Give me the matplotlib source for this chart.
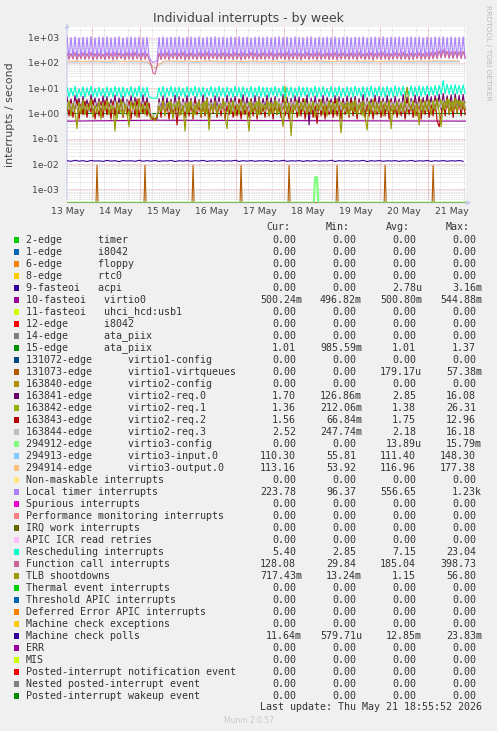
import numpy as np
import matplotlib
matplotlib.use('Agg')
import matplotlib.pyplot as plt
from matplotlib.patches import Rectangle, FancyArrowPatch
from matplotlib.ticker import LogLocator, FuncFormatter, NullFormatter

W, H = 497, 731


def fx(x):
    return x / W


def fy(y):
    return 1 - y / H


# time axis: hours since 13 May 00:00, graph runs 13 May 11:30 -> 21 May 18:55
t_start, t_end = 11.5, 210.92
hours = np.arange(200) + 11.5          # hourly samples
hours2 = hours[::2]
hours4 = hours[::4]

day_labels = ["13 May", "14 May", "15 May", "16 May", "17 May",
              "18 May", "19 May", "20 May", "21 May"]

# ---------------- series ----------------
local_timer = [
    1080, 150, 1020, 160, 1100, 140, 990, 155, 1060, 150, 1040, 165, 1110, 145, 1000, 150, 1070, 160, 1030, 140,
    1090, 155, 1010, 150, 1060, 145, 1100, 160, 990, 150, 1050, 155, 1080, 140, 1020, 165, 1070, 150, 1000, 155,
    1040, 180, 120, 108, 110, 125, 1030, 150, 1090, 160, 1010, 145, 1070, 155, 1040, 150, 1100, 160, 990, 150,
    1060, 145, 1080, 155, 1020, 160, 1090, 150, 1000, 155, 1070, 140, 1050, 160, 1110, 150, 1030, 155, 1060, 145,
    1000, 150, 1080, 160, 1040, 155, 1100, 145, 1020, 150, 1070, 160, 990, 155, 1060, 150, 1090, 145, 1030, 160,
    1080, 150, 1010, 155, 1060, 140, 1100, 160, 1040, 150, 1070, 155, 1000, 145, 1090, 160, 1050, 150, 1020, 155,
    1070, 145, 1100, 160, 990, 150, 1060, 155, 1040, 150, 1080, 140, 1030, 165, 1090, 150, 1010, 155, 1060, 150,
    1100, 145, 1020, 160, 1070, 150, 1040, 155, 1090, 150, 1000, 160, 1060, 145, 1080, 155, 1030, 150, 1100, 160,
    1010, 150, 1070, 155, 1050, 145, 1090, 160, 1020, 150, 1060, 155, 1100, 140, 1040, 165, 1080, 150, 1000, 155,
    1070, 150, 1030, 160, 1090, 145, 1050, 155, 1100, 160, 1020, 150, 1080, 155, 1040, 145, 1060, 160, 1090, 150,
]

function_call = [
    250, 135, 240, 140, 260, 130, 235, 145, 255, 135, 245, 140, 265, 130, 240, 138, 250, 142, 230, 135,
    255, 140, 245, 132, 260, 138, 250, 145, 235, 130, 258, 140, 248, 135, 262, 142, 240, 130, 252, 138,
    245, 130, 90, 40, 36, 75, 250, 135, 245, 140, 260, 132, 238, 145, 255, 135, 248, 140, 262, 130,
    240, 138, 252, 142, 235, 135, 258, 140, 246, 132, 262, 138, 244, 145, 250, 135, 240, 140, 256, 132,
    248, 140, 236, 135, 260, 142, 244, 130, 255, 138, 240, 145, 262, 135, 250, 132, 238, 140, 258, 136,
    245, 142, 260, 130, 238, 138, 252, 145, 246, 135, 264, 132, 240, 140, 255, 138, 248, 130, 236, 144,
    258, 135, 242, 140, 250, 132, 262, 138, 236, 145, 254, 135, 246, 140, 260, 130, 244, 138, 252, 142,
    238, 136, 256, 140, 248, 132, 262, 145, 240, 135, 250, 138, 258, 130, 244, 142, 252, 136, 264, 140,
    246, 132, 240, 138, 258, 145, 250, 135, 262, 140, 238, 132, 254, 138, 246, 145, 260, 135, 242, 140,
    256, 138, 262, 142, 270, 150, 300, 160, 330, 165, 290, 155, 280, 150, 285, 158, 275, 148, 290, 155,
]

rescheduling = [
    11.0, 4.5, 10.0, 5.0, 12.0, 4.2, 9.5, 4.8, 11.5, 4.4, 10.5, 5.2, 12.0, 4.6, 10.0, 4.5, 11.0, 5.0, 9.8, 4.4,
    11.5, 4.7, 10.2, 4.5, 12.0, 4.9, 10.8, 4.3, 11.2, 4.6, 9.9, 5.1, 11.8, 4.5, 10.4, 4.8, 12.1, 4.4, 10.6, 4.7,
    11.0, 4.6, 4.2, 4.0, 4.0, 4.1, 10.5, 4.8, 11.8, 4.5, 10.2, 5.0, 12.0, 4.6, 10.9, 4.4, 11.4, 4.9, 10.1, 4.5,
    11.6, 4.7, 10.3, 5.1, 12.2, 4.4, 10.7, 4.8, 11.1, 4.5, 9.9, 5.0, 11.9, 4.6, 10.6, 4.4, 12.0, 4.8, 10.4, 4.6,
    11.3, 4.9, 10.0, 4.5, 12.1, 4.7, 10.8, 4.3, 11.5, 5.0, 10.2, 4.6, 11.9, 4.4, 10.5, 4.8, 12.2, 4.5, 10.9, 4.7,
    11.0, 4.4, 10.6, 5.1, 11.8, 4.6, 10.1, 4.8, 12.0, 4.5, 10.7, 4.9, 11.4, 4.3, 10.3, 4.7, 12.1, 4.6, 10.8, 5.0,
    11.2, 4.5, 10.4, 4.8, 12.3, 4.4, 10.9, 4.7, 11.6, 5.1, 10.0, 4.6, 11.8, 4.5, 10.6, 4.9, 12.0, 4.4, 10.2, 4.8,
    11.5, 4.7, 10.8, 4.5, 12.2, 5.0, 10.3, 4.6, 11.7, 4.4, 10.9, 4.8, 12.4, 4.6, 10.5, 5.1, 11.9, 4.7, 11.0, 4.5,
    12.0, 4.9, 10.7, 4.6, 12.5, 4.8, 11.1, 5.0, 12.2, 4.7, 10.8, 5.2, 12.6, 4.9, 11.3, 5.0, 12.4, 4.8, 11.6, 5.3,
    12.5, 5.1, 11.4, 5.4, 12.8, 5.2, 13.0, 5.8, 20.0, 6.2, 14.0, 5.9, 13.2, 5.6, 13.8, 6.0, 12.9, 5.7, 13.5, 6.1,
]

req0 = [
    4.5, 1.3, 3.8, 1.2, 5.2, 1.5, 4.0, 1.1, 4.8, 1.4, 3.5, 1.2, 5.5, 1.3, 4.2, 1.5, 3.9, 1.2, 5.0, 1.4,
    4.6, 1.2, 3.7, 1.5, 5.3, 1.1, 4.1, 1.4, 4.9, 1.3, 3.6, 1.2, 5.1, 1.5, 4.4, 1.1, 3.8, 1.4, 5.4, 1.2,
    4.3, 1.1, 0.7, 0.6, 0.55, 0.6, 3.9, 1.3, 5.0, 1.2, 4.2, 1.5, 3.7, 1.1, 5.3, 1.4, 4.6, 1.2, 3.9, 1.5,
    5.1, 1.3, 4.0, 1.2, 4.7, 1.5, 3.6, 1.1, 5.4, 1.3, 4.3, 1.4, 3.8, 1.2, 5.0, 1.5, 4.5, 1.1, 3.9, 1.3,
    5.2, 1.4, 4.1, 1.2, 4.8, 1.1, 3.7, 1.5, 5.5, 1.3, 4.4, 1.2, 3.9, 1.4, 5.1, 1.1, 4.6, 1.3, 4.0, 1.5,
    5.3, 1.2, 4.2, 1.4, 4.7, 1.3, 3.8, 1.1, 5.6, 1.5, 4.3, 1.2, 4.0, 1.4, 5.0, 1.3, 4.5, 1.1, 3.9, 1.4,
    5.4, 0.35, 4.1, 1.1, 4.9, 1.3, 3.7, 1.2, 5.2, 1.4, 4.4, 1.5, 3.8, 1.1, 5.1, 1.3, 4.6, 1.2, 4.0, 1.4,
    5.0, 1.3, 4.3, 1.5, 4.8, 1.2, 3.9, 1.4, 5.5, 1.1, 4.2, 1.3, 3.8, 1.5, 5.3, 1.2, 4.7, 1.4, 4.1, 1.1,
    5.2, 1.4, 4.0, 1.3, 4.9, 1.5, 3.8, 1.2, 5.6, 1.4, 4.5, 1.1, 4.0, 1.3, 5.4, 1.5, 4.8, 1.2, 4.3, 1.4,
    5.6, 1.5, 4.6, 1.3, 5.1, 1.6, 5.8, 1.4, 6.2, 1.7, 5.0, 1.5, 5.5, 1.4, 6.0, 1.6, 5.2, 1.5, 5.7, 1.4,
]

req1 = [
    1.2, 2.5, 0.9, 2.0, 1.5, 2.8, 0.7, 2.2, 1.3, 3.0, 1.0, 1.8, 2.6, 0.8, 2.3, 1.4, 2.9, 1.1, 1.9, 2.4,
    0.9, 2.7, 1.2, 2.1, 1.6, 0.6, 2.5, 1.1, 2.8, 1.4, 2.0, 0.8, 2.6, 1.3, 3.1, 1.0, 1.9, 2.3, 1.2, 2.7,
    1.5, 0.9, 0.7, 0.6, 0.6, 0.8, 2.2, 1.1, 2.6, 1.4, 1.9, 2.9, 1.0, 2.3, 1.6, 2.7, 0.8, 2.1, 1.3, 2.5,
    1.1, 2.8, 1.4, 2.0, 0.9, 2.6, 1.5, 2.2, 1.2, 3.0, 1.0, 1.8, 2.5, 1.3, 2.9, 0.8, 2.3, 1.6, 2.0, 2.7,
    1.2, 2.4, 1.0, 2.9, 1.5, 2.1, 0.9, 2.6, 1.3, 2.3, 1.7, 2.8, 1.1, 2.0, 1.4, 3.0, 0.9, 2.5, 1.2, 2.2,
    1.6, 2.7, 1.0, 2.4, 1.3, 2.9, 1.1, 2.1, 1.5, 12.0, 1.2, 2.6, 1.0, 2.3, 1.4, 2.8, 0.9, 2.5, 1.3, 2.0,
    1.7, 2.6, 1.1, 2.9, 1.2, 2.2, 1.5, 2.7, 0.9, 2.4, 1.3, 3.0, 1.0, 2.1, 1.6, 2.5, 1.2, 2.8, 1.4, 2.3,
    1.0, 2.6, 1.3, 2.9, 1.1, 2.2, 1.5, 2.7, 0.8, 2.4, 1.2, 3.1, 1.0, 2.0, 1.6, 2.6, 1.3, 2.8, 1.1, 2.3,
    1.5, 2.9, 1.2, 2.4, 1.0, 2.7, 1.4, 2.2, 1.7, 3.0, 1.1, 2.5, 1.3, 2.8, 0.9, 2.3, 1.6, 2.6, 1.2, 3.2,
    1.4, 2.8, 1.6, 3.3, 1.2, 2.7, 1.8, 3.5, 1.3, 2.9, 1.7, 3.6, 1.2, 3.0, 1.5, 3.4, 1.9, 3.1, 1.4, 2.8,
]

req2 = [
    2.5, 0.8, 3.2, 0.7, 1.8, 3.6, 0.6, 2.2, 0.9, 3.0, 0.7, 2.6, 1.1, 3.4, 0.6, 2.0, 0.8, 2.9, 0.7, 3.3,
    0.9, 2.4, 0.6, 3.1, 0.8, 2.7, 1.0, 3.5, 0.7, 2.1, 0.9, 3.2, 0.6, 2.5, 0.8, 3.7, 0.7, 2.3, 1.0, 2.9,
    0.8, 2.6, 0.7, 0.6, 0.6, 0.7, 2.8, 0.7, 3.4, 0.9, 2.2, 0.6, 3.0, 0.8, 2.7, 0.35, 3.3, 0.9, 2.4, 0.7,
    3.1, 0.8, 2.6, 0.6, 3.5, 0.9, 2.2, 0.7, 2.9, 0.8, 3.6, 0.6, 2.4, 1.0, 3.0, 0.7, 2.7, 0.8, 3.3, 0.6,
    2.5, 0.9, 3.2, 0.7, 2.1, 0.8, 3.7, 0.6, 2.8, 0.9, 2.3, 0.7, 3.4, 0.8, 2.6, 0.6, 3.0, 0.9, 2.2, 0.7,
    3.5, 0.8, 2.7, 0.6, 3.1, 0.9, 2.4, 0.7, 3.6, 0.8, 2.0, 0.6, 2.9, 1.0, 3.3, 0.7, 2.5, 0.8, 3.8, 0.6,
    2.6, 0.9, 3.0, 0.7, 2.3, 0.4, 3.4, 0.8, 2.7, 0.6, 3.2, 0.9, 2.1, 0.7, 3.5, 0.8, 2.8, 0.6, 3.1, 0.9,
    2.4, 0.7, 3.6, 0.8, 2.9, 0.6, 3.3, 0.9, 2.2, 0.7, 3.0, 0.8, 2.6, 0.6, 3.7, 0.9, 2.5, 0.7, 3.2, 0.8,
    2.8, 0.6, 3.4, 0.9, 2.3, 0.7, 3.1, 0.8, 2.7, 0.6, 3.5, 0.9, 2.4, 0.7, 3.0, 0.8, 3.6, 0.6, 2.9, 0.9,
    3.3, 0.7, 2.6, 0.8, 3.8, 0.5, 0.3, 0.9, 3.4, 0.8, 4.0, 0.9, 3.1, 0.7, 3.6, 1.0, 2.9, 0.8, 3.5, 0.9,
]

req3 = [
    2.8, 1.4, 2.5, 1.2, 3.0, 1.5, 2.6, 1.3, 2.9, 1.4, 2.4, 1.2, 3.1, 1.5, 2.7, 1.3, 2.8, 1.6, 2.5, 1.2,
    2.9, 1.3, 2.6, 1.5, 3.0, 1.2, 2.7, 1.4, 2.5, 1.3, 3.1, 1.5, 2.8, 1.2, 2.6, 1.4, 3.0, 1.3, 2.7, 1.5,
    2.6, 1.4, 1.0, 0.9, 0.9, 1.0, 2.8, 1.3, 2.9, 1.5, 2.5, 1.2, 3.0, 1.4, 2.7, 1.3, 2.6, 1.5, 2.9, 1.2,
    2.8, 1.3, 3.0, 1.5, 2.5, 1.2, 2.9, 1.4, 2.6, 1.3, 3.1, 1.5, 2.7, 1.2, 2.8, 1.4, 3.0, 1.3, 2.5, 1.5,
    2.7, 1.4, 2.9, 1.2, 3.1, 1.5, 2.6, 1.3, 2.8, 1.4, 2.5, 1.2, 3.0, 1.5, 2.7, 1.3, 2.9, 1.4, 2.6, 1.2,
    3.0, 1.5, 2.6, 1.3, 2.8, 1.4, 3.1, 1.2, 2.7, 1.5, 2.5, 1.3, 2.9, 1.4, 3.0, 1.2, 2.6, 1.5, 2.8, 1.3,
    2.5, 1.2, 3.0, 1.4, 2.7, 1.5, 2.9, 1.3, 2.6, 1.4, 3.1, 1.2, 2.8, 1.5, 2.5, 1.3, 3.0, 1.4, 2.7, 1.2,
    2.9, 1.4, 2.6, 1.5, 3.0, 1.3, 2.8, 1.2, 2.5, 1.4, 3.1, 1.5, 2.7, 1.3, 2.9, 1.2, 2.6, 1.4, 3.0, 1.5,
    2.7, 1.3, 2.9, 1.4, 2.6, 1.5, 3.0, 1.2, 2.8, 1.3, 2.5, 1.4, 3.1, 1.5, 2.7, 1.2, 2.9, 1.4, 2.8, 1.3,
    3.0, 1.5, 2.8, 1.6, 3.2, 1.4, 2.9, 1.7, 3.3, 1.5, 3.0, 1.6, 2.8, 1.4, 3.1, 1.7, 2.9, 1.5, 3.2, 1.6,
]

tlb = [
    1.5, 3.2, 0.8, 2.5, 1.2, 0.25, 2.8, 1.0, 3.5, 0.9, 2.2, 1.4, 3.8, 0.7, 2.0, 1.1, 3.0, 0.6, 2.6, 1.3,
    3.4, 0.9, 2.1, 1.6, 0.2, 2.9, 1.2, 3.6, 0.8, 2.4, 1.0, 0.3, 3.1, 1.5, 2.7, 0.7, 3.9, 1.1, 2.3, 0.9,
    2.8, 1.0, 0.6, 0.8, 0.5, 0.7, 1.9, 1.2, 3.3, 0.8, 2.5, 1.5, 3.0, 0.6, 2.2, 1.3, 3.7, 0.9, 2.0, 0.2,
    2.6, 1.1, 3.4, 0.7, 2.1, 1.4, 3.2, 0.8, 2.7, 1.0, 3.8, 0.22, 2.4, 1.2, 3.0, 0.9, 2.2, 1.5, 3.5, 0.7,
    0.25, 2.9, 1.1, 3.3, 0.8, 2.3, 1.3, 3.6, 0.9, 2.6, 1.0, 0.2, 3.1, 1.2, 2.5, 0.8, 3.9, 1.1, 2.2, 1.4,
    3.2, 0.8, 2.7, 1.0, 3.5, 0.9, 2.4, 1.3, 0.3, 3.0, 1.1, 2.6, 0.13, 2.2, 1.4, 3.4, 0.8, 2.8, 1.2, 3.7,
    0.9, 2.3, 1.1, 3.1, 0.7, 2.5, 1.3, 3.6, 1.0, 2.1, 0.8, 3.3, 1.2, 2.9, 0.9, 3.8, 1.1, 0.17, 2.4, 1.5,
    3.0, 0.8, 2.6, 1.2, 3.5, 0.9, 2.2, 1.0, 3.2, 0.7, 0.22, 2.8, 1.3, 3.6, 0.9, 2.4, 1.1, 3.1, 0.8, 2.7,
    1.2, 3.4, 0.25, 2.3, 1.4, 3.0, 0.9, 2.6, 1.1, 3.8, 11.0, 2.2, 1.3, 3.3, 0.8, 2.5, 0.35, 3.6, 1.0, 2.9,
    1.2, 3.5, 0.9, 2.4, 1.4, 3.9, 1.1, 0.3, 2.7, 1.5, 3.8, 1.0, 2.9, 1.3, 4.2, 1.1, 3.3, 1.6, 2.8, 1.4,
]

mc_polls = [
    0.0135, 0.0128, 0.0140, 0.0130, 0.0136, 0.0126, 0.0138, 0.0131, 0.0134, 0.0127,
    0.0139, 0.0130, 0.0136, 0.0125, 0.0137, 0.0132, 0.0135, 0.0128, 0.0140, 0.0129,
    0.0136, 0.0130, 0.0138, 0.0127, 0.0134, 0.0131, 0.0139, 0.0126, 0.0135, 0.0130,
    0.0137, 0.0128, 0.0136, 0.0131, 0.0139, 0.0127, 0.0135, 0.0130, 0.0138, 0.0129,
    0.0134, 0.0131, 0.0140, 0.0127, 0.0136, 0.0130, 0.0137, 0.0128, 0.0135, 0.0131,
    0.0138, 0.0126, 0.0136, 0.0130, 0.0139, 0.0128, 0.0135, 0.0131, 0.0137, 0.0127,
    0.0136, 0.0130, 0.0138, 0.0129, 0.0134, 0.0131, 0.0140, 0.0127, 0.0136, 0.0130,
    0.0137, 0.0128, 0.0135, 0.0131, 0.0139, 0.0126, 0.0136, 0.0130, 0.0138, 0.0128,
    0.0135, 0.0131, 0.0137, 0.0127, 0.0136, 0.0130, 0.0139, 0.0128, 0.0134, 0.0131,
    0.0138, 0.0127, 0.0136, 0.0130, 0.0137, 0.0129, 0.0135, 0.0131, 0.0138, 0.0128,
]

virtio3_input = [
    110, 108, 112, 109, 111, 107, 110, 113, 109, 111, 108, 62, 110, 112, 109, 111, 108, 110, 113, 109,
    110, 112, 108, 111, 109, 110, 112, 107, 111, 109, 110, 113, 108, 110, 112, 109, 111, 108, 110, 112,
    109, 111, 110, 108, 112, 109, 111, 110, 112, 110,
]
virtio3_output = [
    116, 118, 115, 119, 117, 116, 120, 115, 118, 117, 116, 60, 117, 119, 116, 118, 115, 117, 120, 116,
    118, 117, 115, 119, 116, 118, 117, 116, 120, 117, 116, 118, 119, 115, 117, 118, 116, 119, 117, 115,
    118, 120, 116, 117, 119, 118, 122, 120, 121, 119,
]

virtio0_hours = [t_start, 55.5, t_end]
virtio0 = [0.50, 0.54, 0.50]
edge15_hours = [t_start, t_end]
edge15 = [1.01, 1.01]

virtq_spike_hours = [26.5, 50.5, 74.5, 98.5, 122.5, 146.5, 170.5, 194.5]
virtq_spike_values = [0.0088, 0.0088, 0.0088, 0.0088, 0.0088, 0.0088, 0.0088, 0.0088]
cfg_spike_hours = [135.5, 136.5]
cfg_spike_values = [0.003, 0.003]

# ---------------- legend table ----------------
names = [
    "2-edge      timer", "1-edge      i8042", "6-edge      floppy", "8-edge      rtc0",
    "9-fasteoi   acpi", "10-fasteoi   virtio0", "11-fasteoi   uhci_hcd:usb1",
    "12-edge      i8042", "14-edge      ata_piix", "15-edge      ata_piix",
    "131072-edge      virtio1-config", "131073-edge      virtio1-virtqueues",
    "163840-edge      virtio2-config", "163841-edge      virtio2-req.0",
    "163842-edge      virtio2-req.1", "163843-edge      virtio2-req.2",
    "163844-edge      virtio2-req.3", "294912-edge      virtio3-config",
    "294913-edge      virtio3-input.0", "294914-edge      virtio3-output.0",
    "Non-maskable interrupts", "Local timer interrupts", "Spurious interrupts",
    "Performance monitoring interrupts", "IRQ work interrupts", "APIC ICR read retries",
    "Rescheduling interrupts", "Function call interrupts", "TLB shootdowns",
    "Thermal event interrupts", "Threshold APIC interrupts", "Deferred Error APIC interrupts",
    "Machine check exceptions", "Machine check polls", "ERR", "MIS",
    "Posted-interrupt notification event", "Nested posted-interrupt event",
    "Posted-interrupt wakeup event",
]
colors = [
    "#00CC00", "#0066B3", "#FF8000", "#FFCC00", "#330099", "#990099", "#CCFF00", "#FF0000",
    "#808080", "#008F00", "#00487D", "#B35A00", "#B38F00", "#6B006B", "#8FB300", "#B30000",
    "#BEBEBE", "#80FF80", "#80C9FF", "#FFC080", "#FFE680", "#AA80FF", "#EE00CC", "#FF8080",
    "#666600", "#FFBFFF", "#00FFCC", "#CC6699", "#999900", "#00CC00", "#0066B3", "#FF8000",
    "#FFCC00", "#330099", "#990099", "#CCFF00", "#FF0000", "#808080", "#008F00",
]
cur = ["0.00", "0.00", "0.00", "0.00", "0.00", "500.24m", "0.00", "0.00", "0.00", "1.01",
       "0.00", "0.00", "0.00", "1.70", "1.36", "1.56", "2.52", "0.00", "110.30", "113.16",
       "0.00", "223.78", "0.00", "0.00", "0.00", "0.00", "5.40", "128.08", "717.43m", "0.00",
       "0.00", "0.00", "0.00", "11.64m", "0.00", "0.00", "0.00", "0.00", "0.00"]
mins = ["0.00", "0.00", "0.00", "0.00", "0.00", "496.82m", "0.00", "0.00", "0.00", "985.59m",
        "0.00", "0.00", "0.00", "126.86m", "212.06m", "66.84m", "247.74m", "0.00", "55.81", "53.92",
        "0.00", "96.37", "0.00", "0.00", "0.00", "0.00", "2.85", "29.84", "13.24m", "0.00",
        "0.00", "0.00", "0.00", "579.71u", "0.00", "0.00", "0.00", "0.00", "0.00"]
avgs = ["0.00", "0.00", "0.00", "0.00", "2.78u", "500.80m", "0.00", "0.00", "0.00", "1.01",
        "0.00", "179.17u", "0.00", "2.85", "1.38", "1.75", "2.18", "13.89u", "111.40", "116.96",
        "0.00", "556.65", "0.00", "0.00", "0.00", "0.00", "7.15", "185.04", "1.15", "0.00",
        "0.00", "0.00", "0.00", "12.85m", "0.00", "0.00", "0.00", "0.00", "0.00"]
maxs = ["0.00", "0.00", "0.00", "0.00", "3.16m", "544.88m", "0.00", "0.00", "0.00", "1.37",
        "0.00", "57.38m", "0.00", "16.08", "26.31", "12.96", "16.18", "15.79m", "148.30", "177.38",
        "0.00", "1.23k", "0.00", "0.00", "0.00", "0.00", "23.04", "398.73", "56.80", "0.00",
        "0.00", "0.00", "0.00", "23.83m", "0.00", "0.00", "0.00", "0.00", "0.00"]
col_heads = ["Cur:", "Min:", "Avg:", "Max:"]

# ---------------- assemble series (drawing order = legend order) ----------------
vq_x, vq_y = [t_start], [0.0]
for h, v in zip(virtq_spike_hours, virtq_spike_values):
    vq_x += [h - 0.5, h, h + 0.5]
    vq_y += [0.0, v, 0.0]
vq_x.append(t_end)
vq_y.append(0.0)

cfg_x = [t_start, cfg_spike_hours[0] - 0.6] + cfg_spike_hours + [cfg_spike_hours[-1] + 0.6, t_end]
cfg_y = [0.0, 0.0] + cfg_spike_values + [0.0, 0.0]

series = {
    5: (virtio0_hours, virtio0),
    9: (edge15_hours, edge15),
    11: (vq_x, vq_y),
    13: (hours, req0),
    14: (hours, req1),
    15: (hours, req2),
    16: (hours, req3),
    17: (cfg_x, cfg_y),
    18: (hours4, virtio3_input),
    19: (hours4, virtio3_output),
    21: (hours, local_timer),
    26: (hours, rescheduling),
    27: (hours, function_call),
    28: (hours, tlb),
    33: (hours2, mc_polls),
}

ymin, ymax = 2.95e-4, 2570

# ---------------- figure ----------------
fig = plt.figure(figsize=(W / 100, H / 100), dpi=100, facecolor="#F0F0F0")
ax = fig.add_axes([fx(67), fy(202.7), 399 / W, 175.4 / H])
ax.set_facecolor("white")

for i in range(len(names)):
    x, y = series.get(i, ([t_start, t_end], [0.0, 0.0]))
    y = np.maximum(np.asarray(y, dtype=float), ymin)
    lw = 1.6 if i == 17 else 0.8
    ax.plot(x, y, color=colors[i], lw=lw, zorder=2 + i * 0.01)

ax.set_yscale("log")
ax.set_ylim(ymin, ymax)
ax.set_xlim(t_start, t_end)

ax.yaxis.set_major_locator(LogLocator(base=10, numticks=20))
ax.yaxis.set_minor_locator(LogLocator(base=10, subs=np.arange(2, 10), numticks=20))
ax.yaxis.set_major_formatter(FuncFormatter(lambda v, p: "{:.0e}".format(v)))
ax.yaxis.set_minor_formatter(NullFormatter())

noon = [12 + 24 * k for k in range(len(day_labels))]
ax.set_xticks(noon)
ax.set_xticklabels(day_labels)
ax.set_xticks(np.arange(18, 211, 6), minor=True)

ax.tick_params(axis="both", which="both", length=0, labelsize=6.7, labelcolor="#444444")
ax.tick_params(axis="y", pad=5.8)
ax.tick_params(axis="x", pad=3.2)

ax.set_axisbelow(True)
ax.grid(which="minor", axis="both", color="#D6D6D6", lw=0.6, ls=(0, (1, 1)))
ax.grid(which="major", axis="y", color="#EBA0A0", lw=0.6, ls=(0, (1, 1)))
ax.xaxis.grid(False, which="major")
for k in range(1, len(day_labels)):
    ax.axvline(24 * k, color="#EBA0A0", lw=0.6, ls=(0, (1, 1)), zorder=1)

# axis lines with arrow heads (rrdtool style), no frame
for s in ax.spines.values():
    s.set_visible(False)
axis_col = "#C4CCEA"
for end in [(1 + 8 / 399, 0), (0, 1 + 6.5 / 175.4)]:
    ax.add_patch(FancyArrowPatch((0, 0), end, transform=ax.transAxes, arrowstyle="-|>",
                                 color=axis_col, lw=0.8, mutation_scale=6,
                                 clip_on=False, zorder=1))

# titles and side texts
fig.text(0.5, fy(18.5), "Individual interrupts - by week", ha="center", va="center",
         fontsize=9, color="#444444")
fig.text(fx(10.5), fy(115), "interrupts / second", rotation=90, ha="center", va="center",
         fontsize=7.9, color="#444444")
fig.text(fx(488), fy(5), "RRDTOOL / TOBI OETIKER", rotation=270, ha="center", va="top",
         fontsize=5.4, color="#BBBBBB")

# legend table: monospace, 6 px per character
mono = dict(family="DejaVu Sans Mono", fontsize=7.17, color="#333333", va="center")
cw = 6.0
col_ends = [26 + 46 * cw, 26 + 56 * cw, 26 + 66 * cw, 26 + 76 * cw]

for j, head in enumerate(col_heads):
    fig.text(fx(col_ends[j] - 6 * cw), fy(227.3), head, **mono)

for i, name in enumerate(names):
    y = 240 + 12 * i
    fig.add_artist(Rectangle((fx(14), fy(y + 2.7)), 5.4 / W, 5.4 / H,
                             transform=fig.transFigure, facecolor=colors[i], lw=0))
    fig.text(fx(26), fy(y), name, **mono)
    for j, v in enumerate((cur[i], mins[i], avgs[i], maxs[i])):
        xr = col_ends[j] if v[-1].isalpha() else col_ends[j] - cw
        fig.text(fx(xr), fy(y), v, ha="right", **mono)

fig.text(fx(col_ends[-1]), fy(707.3), "Last update: Thu May 21 18:55:52 2026", ha="right", **mono)
fig.text(0.5, fy(720.3), "Munin 2.0.57", ha="center", va="center", fontsize=5.5, color="#C8C8C8")

fig.savefig("out.png", dpi=100, facecolor=fig.get_facecolor())
